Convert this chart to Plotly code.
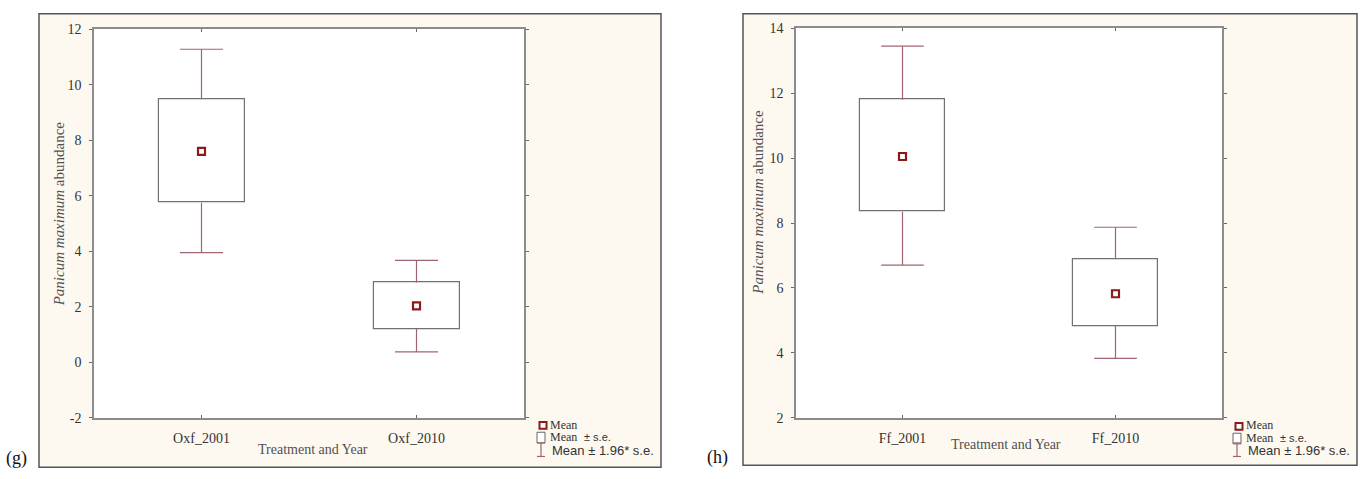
import plotly.graph_objects as go

W, H = 1362, 479

# ---------------- data ----------------
cats_g = ["Oxf_2001", "Oxf_2010"]
mean_g = [7.6, 2.03]
se_lo_g = [5.75, 1.2]
se_hi_g = [9.48, 2.87]
ci_lo_g = [3.95, 0.37]
ci_hi_g = [11.28, 3.67]
yticks_g = [-2, 0, 2, 4, 6, 8, 10, 12]

cats_h = ["Ff_2001", "Ff_2010"]
mean_h = [10.05, 5.82]
se_lo_h = [8.35, 4.83]
se_hi_h = [11.8, 6.88]
ci_lo_h = [6.7, 3.83]
ci_hi_h = [13.45, 7.87]
yticks_h = [2, 4, 6, 8, 10, 12, 14]

# ---------------- styles ----------------
CREAM = "#fdf9f1"
FRAME = "#555555"
PLOTLINE = "#8c8c8c"
BOXLINE = "#747070"
WHISK = "#a0646e"
MEANC = "#8b1a1a"
SERIF = "Liberation Serif, Times New Roman, serif"
SANS = "Liberation Sans, Arial, sans-serif"
TXT = "#333333"


def px(x):
    return x / W


def py(y):
    return 1 - y / H


fig = go.Figure()


def add_panel(cats, mean, se_lo, se_hi, ci_lo, ci_hi, xa, ya):
    pos = list(range(len(cats)))
    fig.add_trace(go.Bar(
        x=pos, y=[h - l for l, h in zip(se_lo, se_hi)], base=se_lo, width=0.4,
        marker=dict(color="white", line=dict(color=BOXLINE, width=1.2)),
        xaxis=xa, yaxis=ya, showlegend=False, hoverinfo="skip"))
    xs, ys = [], []
    cap = 0.1
    for p, wl, bl, bh, wh in zip(pos, ci_lo, se_lo, se_hi, ci_hi):
        xs += [p, p, None, p, p, None, p - cap, p + cap, None, p - cap, p + cap, None]
        ys += [wl, bl, None, bh, wh, None, wl, wl, None, wh, wh, None]
    fig.add_trace(go.Scatter(
        x=xs, y=ys, mode="lines", line=dict(color=WHISK, width=1.2),
        xaxis=xa, yaxis=ya, showlegend=False, hoverinfo="skip"))
    fig.add_trace(go.Scatter(
        x=pos, y=mean, mode="markers",
        marker=dict(symbol="square", size=7, color="white",
                    line=dict(color=MEANC, width=2.2)),
        xaxis=xa, yaxis=ya, showlegend=False, hoverinfo="skip"))


add_panel(cats_g, mean_g, se_lo_g, se_hi_g, ci_lo_g, ci_hi_g, "x", "y")
add_panel(cats_h, mean_h, se_lo_h, se_hi_h, ci_lo_h, ci_hi_h, "x2", "y2")

xcommon = dict(range=[-0.5, 1.5], tickmode="array", tickvals=[0, 1],
               showline=True, linecolor=PLOTLINE, linewidth=1.5, mirror="ticks",
               ticks="inside", ticklen=3, tickcolor="#666", showgrid=False,
               zeroline=False, fixedrange=True,
               tickfont=dict(family=SERIF, size=14, color=TXT),
               ticklabelstandoff=7)
ycommon = dict(showline=True, linecolor=PLOTLINE, linewidth=1.5, mirror="ticks",
               ticks="outside", ticklen=3, tickcolor="#666", showgrid=False,
               zeroline=False, fixedrange=True, tickmode="array",
               tickfont=dict(family=SERIF, size=14, color=TXT),
               ticklabelstandoff=5)

fig.update_layout(
    width=W, height=H, margin=dict(l=0, r=0, t=0, b=0),
    paper_bgcolor="white", plot_bgcolor="white", bargap=0,
    xaxis=dict(domain=[px(94), px(524)], ticktext=cats_g, anchor="y", **xcommon),
    yaxis=dict(domain=[py(424), py(23)], range=[-2, 12], tickvals=yticks_g,
               ticktext=[str(v) for v in yticks_g], anchor="x", **ycommon),
    xaxis2=dict(domain=[px(796), px(1222)], ticktext=cats_h, anchor="y2", **xcommon),
    yaxis2=dict(domain=[py(424), py(22)], range=[2, 14], tickvals=yticks_h,
                ticktext=[str(v) for v in yticks_h], anchor="x2", **ycommon),
)

shapes = []
ann = []
# outer frames (cream) and plot areas (white)
for (x0, y0, x1, y1) in [(39, 7, 661, 475), (743, 7, 1357, 473)]:
    shapes.append(dict(type="rect", xref="paper", yref="paper",
                       x0=px(x0), x1=px(x1), y0=py(y1), y1=py(y0),
                       fillcolor=CREAM, line=dict(color=FRAME, width=1.5),
                       layer="below"))
for xr, yr in [("x", "y"), ("x2", "y2")]:
    shapes.append(dict(type="rect", xref=xr + " domain", yref=yr + " domain",
                       x0=0, x1=1, y0=0, y1=1, fillcolor="white",
                       line=dict(width=0), layer="below"))


def note(text, x, y, font, xanchor="center", angle=0):
    ann.append(dict(text=text, x=px(x), y=py(y), xref="paper", yref="paper",
                    showarrow=False, xanchor=xanchor, yanchor="middle",
                    textangle=angle, font=font))


# panel letters
note("(g)", 16, 466, dict(family=SERIF, size=18, color="#111"))
note("(h)", 717, 465, dict(family=SERIF, size=18, color="#111"))

# axis titles
for xc, yc in [(59, 213), (758, 202)]:
    note("<i>Panicum maximum</i> abundance", xc, yc,
         dict(family=SERIF, size=15, color="#505050"), angle=-90)
for xc, yc in [(313, 457), (1006, 452)]:
    note("Treatment and Year", xc, yc, dict(family=SERIF, size=14, color="#505050"))

# legends (icons + text)
for lx, r1, r2, r3 in [(543, 432, 444, 457), (1239, 433, 445, 457)]:
    shapes.append(dict(type="rect", xref="paper", yref="paper",
                       x0=px(lx - 3.5), x1=px(lx + 3.5), y0=py(r1 + 3.5), y1=py(r1 - 3.5),
                       fillcolor="white", line=dict(color=MEANC, width=2), layer="above"))
    note("Mean", lx + 5, r1 - 1, dict(family=SERIF, size=12, color=TXT), "left")
    shapes.append(dict(type="rect", xref="paper", yref="paper",
                       x0=px(lx - 6), x1=px(lx + 2), y0=py(r2 + 6), y1=py(r2 - 5),
                       fillcolor="white", line=dict(color="#666", width=1), layer="above"))
    note("Mean", lx + 5, r2, dict(family=SERIF, size=12, color=TXT), "left")
    note("± s.e.", lx + 39, r2, dict(family=SANS, size=11, color=TXT), "left")
    ix = lx - 2
    for seg in [(ix, r3 - 7, ix, r3 + 7), (ix - 4, r3 - 7, ix + 4, r3 - 7),
                (ix - 4, r3 + 7, ix + 4, r3 + 7)]:
        shapes.append(dict(type="line", xref="paper", yref="paper",
                           x0=px(seg[0]), y0=py(seg[1]), x1=px(seg[2]), y1=py(seg[3]),
                           line=dict(color=WHISK, width=1.2), layer="above"))
    note("Mean ± 1.96* s.e.", lx + 7, r3 + 1, dict(family=SANS, size=13, color=TXT), "left")

fig.update_layout(shapes=shapes, annotations=ann)
fig.write_html("out.html")
